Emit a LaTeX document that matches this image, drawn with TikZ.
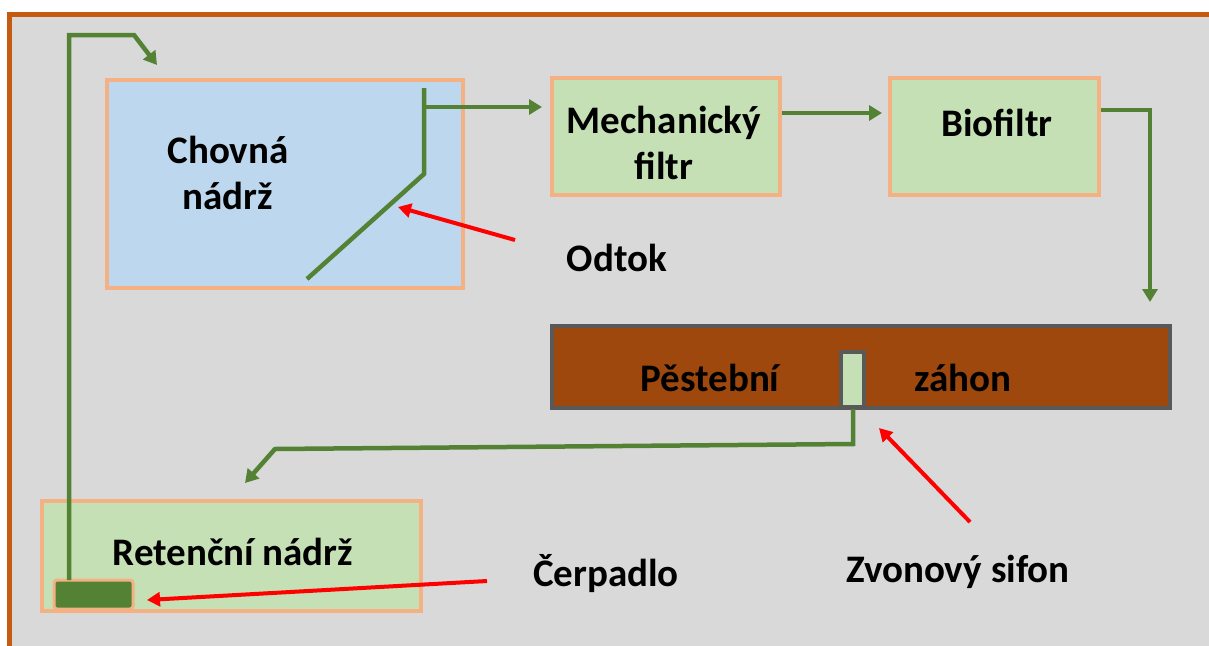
\documentclass[tikz,border=0pt]{standalone}
\usepackage{fontspec}
\setmainfont{Carlito}
\usetikzlibrary{arrows.meta}
\definecolor{frameor}{HTML}{C55A11}
\definecolor{boxor}{HTML}{F4B183}
\definecolor{bgrey}{HTML}{D9D9D9}
\definecolor{tankblue}{HTML}{BDD7EE}
\definecolor{lgreen}{HTML}{C5E0B4}
\definecolor{pgreen}{HTML}{548235}
\definecolor{soil}{HTML}{9E480E}
\definecolor{dgrey}{HTML}{595959}
\tikzset{
  box/.style={draw=boxor, line width=4.5pt, inner sep=0pt, rectangle},
  txt/.style={font=\fontsize{39}{46}\selectfont\bfseries, align=center, inner sep=0pt, text=black},
  pipe/.style={draw=pgreen, line width=4.5pt},
  flow/.style={pipe, -{Triangle[length=13pt,width=15pt]}},
  pointer/.style={draw=red, line width=4pt, -{Triangle[length=13pt,width=14pt]}}
}
\begin{document}
\begin{tikzpicture}[x=1pt,y=-1pt]
\useasboundingbox (0,0) rectangle (1209,645);
\clip (0,0) rectangle (1209,645);
\fill[white] (0,0) rectangle (1209,645);
\draw[draw=frameor, fill=bgrey, line width=4.5pt] (9.5,14.7) rectangle (1260,700);

% boxes
\node[box, fill=tankblue, minimum width=356pt, minimum height=208pt] (chov) at (285,184) {};
\node[box, fill=lgreen, minimum width=228pt, minimum height=117pt] (mech) at (666,136.5) {};
\node[box, fill=lgreen, minimum width=209pt, minimum height=117pt] (bio) at (994.5,136.5) {};
\node[draw=dgrey, fill=soil, line width=4.5pt, inner sep=0pt, minimum width=618pt, minimum height=82pt] (bed) at (861,367) {};
\node[draw=dgrey, fill=lgreen, line width=4.5pt, inner sep=0pt, minimum width=23pt, minimum height=55pt] (sifon) at (852.5,379.5) {};
\node[box, fill=lgreen, minimum width=379pt, minimum height=110pt] (ret) at (231.5,556) {};
\node[draw=boxor, fill=pgreen, line width=3pt, rounded corners=3pt, inner sep=0pt, minimum width=79pt, minimum height=29pt] (pump) at (93.5,594.5) {};

% texts
\node[txt] (tchov) at (228,173) {Chovná\\nádrž};
\node[txt] (tmech) at (664,143) {Mechanický\\filtr};
\node[txt] (tbio) at (997,123) {Biofiltr};
\node[txt] (todtok) at (617,258) {Odtok};
\node[txt] (tpest) at (710,378) {Pěstební};
\node[txt] (tzahon) at (963,378) {záhon};
\node[txt] (tret) at (233,552) {Retenční nádrž};
\node[txt] (tcerp) at (606,574) {Čerpadlo};
\node[txt] (tzvon) at (958,572) {Zvonový sifon};

% coordinates
\coordinate (pumpTop) at (69,580);
\coordinate (retTurn) at (134,35);
\coordinate (chovIn) at (157,65);
\coordinate (odTop) at (424,88);
\coordinate (odBranch) at (424,107);
\coordinate (odKnee) at (424,174);
\coordinate (odEnd) at (307,279);
\coordinate (mechIn) at (542,107);
\coordinate (bioIn) at (882,113);
\coordinate (bioOut) at (1101,110);
\coordinate (bedIn) at (1150,302);
\coordinate (sifOut) at (853,409);
\coordinate (sifKnee) at (853,444);
\coordinate (retKnee) at (275,449);
\coordinate (retIn) at (245,483);

% pipes
\draw[flow] (pumpTop) |- (retTurn) -- (chovIn);
\draw[pipe] (odTop) -- (odKnee) -- (odEnd);
\draw[flow] (odBranch) -- (mechIn);
\draw[flow] (mech.east |- bioIn) -- (bioIn);
\draw[flow] (bioOut) -| (bedIn);
\draw[flow] (sifOut) -- (sifKnee) -- (retKnee) -- (retIn);

% pointers
\coordinate (odPt) at (398,207);
\coordinate (sifPt) at (879,428);
\coordinate (pumpPt) at (147,600);
\draw[pointer] (515,240) -- (odPt);
\draw[pointer] (970,522) -- (sifPt);
\draw[pointer] (487,581) -- (pumpPt);
\end{tikzpicture}
\end{document}
